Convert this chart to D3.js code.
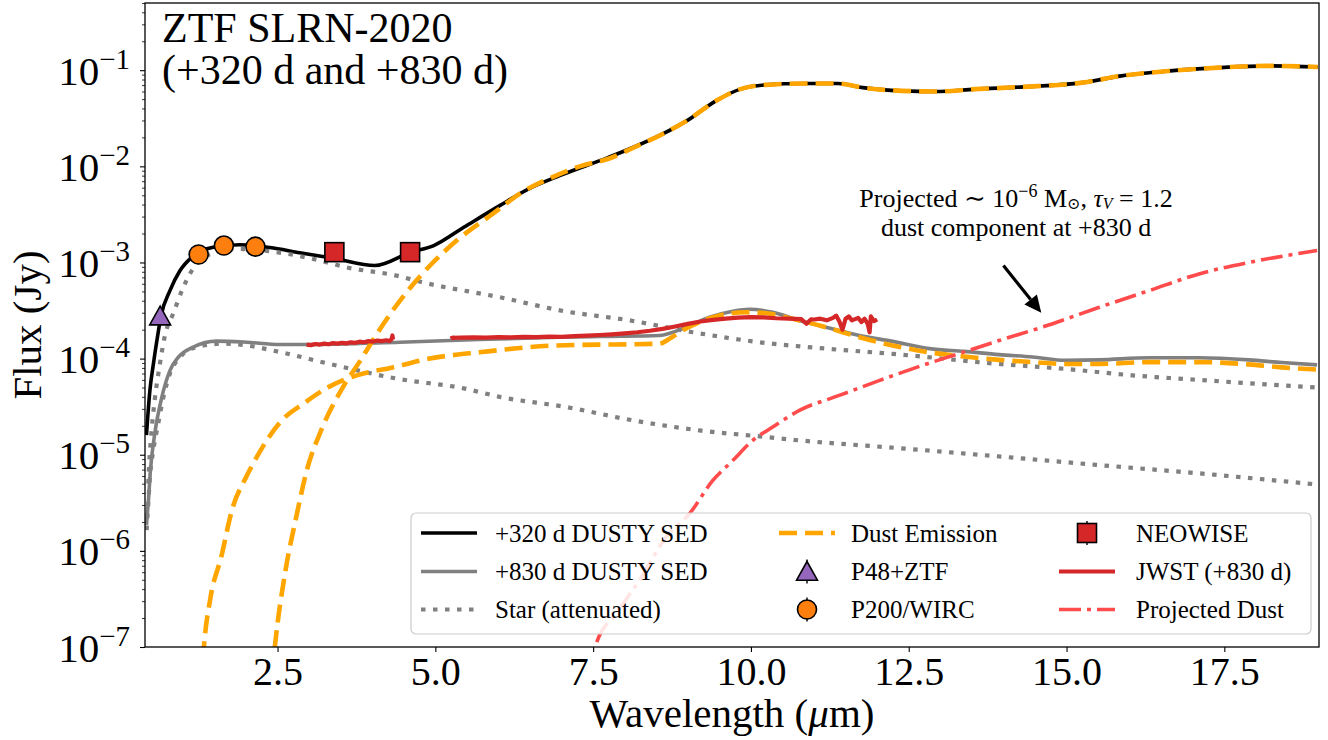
<!DOCTYPE html>
<html>
<head>
<meta charset="utf-8">
<script src="https://cdn.jsdelivr.net/npm/d3@7"></script>
<style>
body { margin: 0; background: #fff; }
text { font-family: "Liberation Serif", "DejaVu Serif", serif; fill: #000; }
</style>
</head>
<body>
<svg id="chart" width="1328" height="740"></svg>
<script>
// +320 d DUSTY SED (total)
var sed320Wave = [0.423, 0.478, 0.534, 0.589, 0.653, 0.795, 0.953, 1.139, 1.48, 1.903, 2.378, 2.853, 3.407, 4.04, 4.61,
    4.975, 5.45, 6.019, 6.472, 6.97, 7.743, 8.129, 8.595, 8.981, 9.446, 9.833, 10.22, 10.84, 11.38, 11.77, 12.39,
    12.93, 13.55, 14.32, 15.25, 15.87, 16.64, 17.42, 18.19, 18.98];
var sed320Flux = [1.6e-5, 4.7e-5, 8.9e-5, 1.55e-4, 2.77e-4, 5.1e-4, 8.2e-4, 1.13e-3, 1.44e-3, 1.53e-3, 1.43e-3, 1.26e-3, 1.1e-3, 9.3e-4, 1.28e-3,
    1.50e-3, 2.32e-3, 3.9e-3, 5.8e-3, 8.0e-3, 1.24e-2, 1.57e-2, 2.16e-2, 2.97e-2, 4.8e-2, 6.35e-2, 7.03e-2, 7.26e-2, 7.26e-2, 6.59e-2, 6.1e-2,
    6.0e-2, 6.35e-2, 6.71e-2, 7.43e-2, 8.73e-2, 9.84e-2, 0.1064, 0.111, 0.108];

// +830 d DUSTY SED (total)
var sed830Wave = [0.423, 0.455, 0.486, 0.558, 0.664, 0.795, 0.926, 1.164, 1.534, 2.009, 2.536, 2.959, 4.436, 5.70, 6.969,
    7.60, 8.552, 8.975, 9.344, 9.712, 9.977, 10.345, 10.768, 11.19, 11.72, 12.245, 12.83, 13.38, 13.93, 14.46,
    14.99, 15.52, 16.31, 17.10, 17.89, 18.41, 18.97];
var sed830Flux = [1.85e-6, 3.4e-6, 6.9e-6, 1.71e-5, 3.9e-5, 7.5e-5, 1.03e-4, 1.32e-4, 1.52e-4, 1.48e-4, 1.40e-4, 1.40e-4, 1.48e-4, 1.58e-4, 1.67e-4,
    1.70e-4, 1.74e-4, 2.12e-4, 2.69e-4, 3.11e-4, 3.26e-4, 3.03e-4, 2.49e-4, 2.12e-4, 1.74e-4, 1.51e-4, 1.27e-4, 1.19e-4, 1.10e-4, 1.04e-4,
    9.6e-5, 9.7e-5, 1.02e-4, 1.02e-4, 9.7e-5, 9.1e-5, 8.6e-5];

// attenuated star, +320 d and +830 d
var star320Wave = [0.452, 0.467, 0.505, 0.558, 0.637, 0.716, 0.847, 1.006, 1.218, 1.534, 1.903, 2.272, 3.064, 3.592, 4.384,
    4.805, 6.019, 7.048, 8.025, 9.079, 10.135, 11.19, 12.245, 13.93, 14.99, 16.04, 17.10, 18.156, 18.97];
var star320Flux = [5.0e-6, 8.1e-6, 1.8e-5, 3.9e-5, 8.9e-5, 1.74e-4, 2.94e-4, 5.5e-4, 9.7e-4, 1.28e-3, 1.38e-3, 1.33e-3, 1.09e-3, 8.9e-4, 7.3e-4,
    6.2e-4, 4.35e-4, 3.11e-4, 2.53e-4, 1.88e-4, 1.48e-4, 1.27e-4, 1.12e-4, 8.8e-5, 7.8e-5, 6.7e-5, 6.0e-5, 5.4e-5, 5.0e-5];
var star830Wave = [0.426, 0.452, 0.478, 0.531, 0.610, 0.689, 0.795, 0.953, 1.218, 1.639, 2.009, 2.536, 3.328, 4.384, 5.449,
    6.019, 7.075, 8.13, 9.185, 10.24, 10.77, 12.35, 13.93, 15.52, 17.10, 18.97];
var star830Flux = [1.64e-6, 3.1e-6, 5.8e-6, 1.11e-5, 2.12e-5, 3.9e-5, 7.0e-5, 1.03e-4, 1.32e-4, 1.43e-4, 1.37e-4, 1.17e-4, 8.8e-5, 6.2e-5, 4.9e-5,
    4.0e-5, 3.13e-5, 2.28e-5, 1.79e-5, 1.53e-5, 1.41e-5, 1.17e-5, 9.6e-6, 7.8e-6, 6.4e-6, 4.9e-6];

// dust emission components
var dust320Wave = [2.378, 2.457, 2.627, 2.796, 2.964, 3.192, 3.532, 3.814, 4.04, 4.324, 4.606, 4.943, 5.338, 5.907, 6.415,
    6.81, 7.29, 7.743, 8.129, 8.595, 8.981, 9.446, 9.833, 10.22, 10.84, 11.38, 11.77, 12.39, 12.93, 13.55, 14.32,
    15.25, 15.87, 16.64, 17.42, 18.19, 18.98];
var dust320Flux = [2.8e-8, 1.0e-7, 6.3e-7, 2.25e-6, 6.9e-6, 1.8e-5, 5.0e-5, 9.6e-5, 1.67e-4, 3.16e-4, 5.5e-4, 9.7e-4, 1.69e-3, 3.2e-3, 5.6e-3,
    7.5e-3, 1.0e-2, 1.2e-2, 1.55e-2, 2.16e-2, 2.97e-2, 4.8e-2, 6.35e-2, 7.03e-2, 7.26e-2, 7.26e-2, 6.59e-2, 6.1e-2, 6.0e-2, 6.35e-2, 6.71e-2,
    7.43e-2, 8.73e-2, 9.84e-2, 0.1064, 0.111, 0.108];
var dust830Wave = [1.29, 1.333, 1.439, 1.609, 1.777, 2.005, 2.172, 2.568, 2.91, 3.306, 3.755, 4.324, 4.889, 5.734, 6.921,
    8.552, 8.71, 8.916, 9.185, 9.502, 9.925, 10.24, 10.66, 11.19, 11.72, 12.245, 12.83, 13.38, 13.93, 14.46,
    14.99, 15.52, 16.31, 17.10, 17.89, 18.41, 18.97];
var dust830Flux = [4.0e-8, 1.0e-7, 3.3e-7, 8.7e-7, 2.65e-6, 5.9e-6, 9.5e-6, 2.28e-5, 3.4e-5, 5.05e-5, 6.7e-5, 8.1e-5, 9.95e-5, 1.17e-4, 1.37e-4,
    1.43e-4, 1.61e-4, 1.96e-4, 2.39e-4, 2.81e-4, 3.03e-4, 2.96e-4, 2.59e-4, 2.12e-4, 1.67e-4, 1.37e-4, 1.16e-4, 1.05e-4, 9.7e-5, 9.2e-5,
    8.8e-5, 8.8e-5, 9.2e-5, 9.2e-5, 8.7e-5, 8.1e-5, 7.7e-5];

// projected ~1e-6 Msun dust component at +830 d
var projWave = [7.44, 7.55, 7.867, 8.235, 8.658, 9.027, 9.396, 9.712, 10.029, 10.345, 10.768, 11.40, 12.03, 12.67, 13.30,
    13.93, 14.61, 15.52, 16.31, 17.10, 17.89, 18.97];
var projFlux = [4.6e-8, 1.09e-7, 2.24e-7, 4.97e-7, 1.40e-6, 2.44e-6, 5.4e-6, 8.7e-6, 1.41e-5, 1.94e-5, 2.89e-5, 4.14e-5, 5.9e-5, 8.3e-5, 1.13e-4,
    1.54e-4, 2.12e-4, 3.42e-4, 5.1e-4, 7.6e-4, 1.0e-3, 1.33e-3];

// JWST spectrum (+830 d), null marks the gap between the two segments
var jwstWave = [2.96, 3.03, 3.10, 3.17, 3.24, 3.31, 3.38, 3.45, 3.52, 3.59, 3.66, 3.73, 3.80, 3.87, 3.94, 4.01, 4.08, 4.15, 4.22, 4.28, 4.31, 4.32, 4.33,
    4.8,
    5.26, 5.27, 5.4, 5.6, 5.8, 6.0, 6.2, 6.4, 6.6, 6.8, 7.0, 7.2, 7.4, 7.6, 7.8, 8.0, 8.2, 8.4, 8.6, 8.8, 9.0, 9.2, 9.4, 9.6, 9.8,
    10.0, 10.2, 10.4, 10.6, 10.8, 10.88, 10.95, 11.0, 11.1, 11.2, 11.3, 11.35, 11.4, 11.45, 11.5, 11.55, 11.6, 11.7, 11.75, 11.8,
    11.85, 11.88, 11.9, 11.95, 12.0];
var jwstFlux = [1.40e-4, 1.38e-4, 1.42e-4, 1.40e-4, 1.43e-4, 1.41e-4, 1.45e-4, 1.43e-4, 1.46e-4, 1.44e-4, 1.48e-4, 1.46e-4, 1.50e-4, 1.48e-4, 1.52e-4, 1.50e-4, 1.54e-4, 1.52e-4, 1.55e-4, 1.53e-4, 1.60e-4, 1.74e-4, 1.58e-4,
    null,
    1.72e-4, 1.64e-4, 1.65e-4, 1.66e-4, 1.65e-4, 1.67e-4, 1.66e-4, 1.68e-4, 1.67e-4, 1.69e-4, 1.68e-4, 1.71e-4, 1.73e-4, 1.76e-4, 1.79e-4, 1.83e-4, 1.88e-4, 1.95e-4, 2.04e-4, 2.16e-4, 2.30e-4, 2.43e-4, 2.53e-4, 2.61e-4, 2.67e-4,
    2.70e-4, 2.68e-4, 2.63e-4, 2.60e-4, 2.57e-4, 2.3e-4, 2.56e-4, 2.55e-4, 2.6e-4, 2.5e-4, 2.65e-4, 2.8e-4, 2.45e-4, 2.0e-4, 2.6e-4, 2.75e-4, 2.5e-4, 2.65e-4, 2.4e-4, 2.6e-4,
    2.3e-4, 1.88e-4, 2.75e-4, 2.45e-4, 2.55e-4];

// photometry
var ztfWave = [0.64], ztfFlux = [2.7e-4];
var wircWave = [1.25, 1.65, 2.15], wircFlux = [1.21e-3, 1.50e-3, 1.46e-3];
var neoWave = [3.4, 4.6], neoFlux = [1.28e-3, 1.28e-3];

// axes
var xTicks = [2.5, 5.0, 7.5, 10.0, 12.5, 15.0, 17.5];
var yTickExp = [-7, -6, -5, -4, -3, -2, -1];
var xDomain = [0.4, 19];
var yDomain = [1e-7, 0.5];

// annotation: arrow tail/tip in data coords
var arrowFrom = [14.0, 9.3e-4], arrowTo = [14.6, 3.0e-4];
var annotX = 14.2;

var svg = d3.select("#chart"),
    margin = {top: 3, left: 145, bottom: 93, right: 9},
    W = +svg.attr("width"), H = +svg.attr("height");

var x = d3.scaleLinear().domain(xDomain).range([margin.left, W - margin.right]);
var y = d3.scaleLog().domain(yDomain).range([H - margin.bottom, margin.top]);

function zipSeries(w, f) { return w.map(function(d, i){ return {w: d, f: f[i]}; }); }

svg.append("defs").append("clipPath").attr("id", "plotclip")
    .append("rect").attr("x", x.range()[0]).attr("y", y.range()[1])
    .attr("width", x.range()[1] - x.range()[0]).attr("height", y.range()[0] - y.range()[1]);

var plot = svg.append("g").attr("clip-path", "url(#plotclip)");

var line = d3.line()
    .defined(function(d){ return d.f != null; })
    .x(function(d){ return x(d.w); })
    .y(function(d){ return y(d.f); })
    .curve(d3.curveMonotoneX);
var lineRaw = d3.line()
    .defined(function(d){ return d.f != null; })
    .x(function(d){ return x(d.w); })
    .y(function(d){ return y(d.f); });

var GREY = "#808080", ORANGE = "#ffa500", RED = "#d62728", PROJ = "#ff4b4b";

// draw order: SEDs, stars, dust, projected, jwst, photometry
var series = [
    {w: sed320Wave, f: sed320Flux, color: "#000", width: 3.6, dash: null, smooth: true},
    {w: sed830Wave, f: sed830Flux, color: GREY, width: 3.6, dash: null, smooth: true},
    {w: star320Wave, f: star320Flux, color: GREY, width: 4.2, dash: "4.5,7.5", smooth: true},
    {w: star830Wave, f: star830Flux, color: GREY, width: 4.2, dash: "4.5,7.5", smooth: true},
    {w: dust320Wave, f: dust320Flux, color: ORANGE, width: 4.6, dash: "18,8", smooth: true},
    {w: dust830Wave, f: dust830Flux, color: ORANGE, width: 4.6, dash: "18,8", smooth: true},
    {w: projWave, f: projFlux, color: PROJ, width: 3.6, dash: "22,6,4,6", smooth: true},
    {w: jwstWave, f: jwstFlux, color: RED, width: 4.2, dash: null, smooth: false}
];

series.forEach(function(s){
    plot.append("path")
        .datum(zipSeries(s.w, s.f))
        .attr("fill", "none")
        .attr("stroke", s.color)
        .attr("stroke-width", s.width)
        .attr("stroke-dasharray", s.dash)
        .attr("stroke-linejoin", "round")
        .attr("d", s.smooth ? line : lineRaw);
});

// photometry markers
function triPath(cx, cy, r) {
    return "M" + cx + "," + (cy - r) + "L" + (cx + r * 0.95) + "," + (cy + r * 0.7) + "L" + (cx - r * 0.95) + "," + (cy + r * 0.7) + "Z";
}
plot.selectAll("circle.wirc").data(zipSeries(wircWave, wircFlux)).enter().append("circle")
    .attr("cx", function(d){ return x(d.w); }).attr("cy", function(d){ return y(d.f); })
    .attr("r", 9.5).attr("fill", "#ff7f0e").attr("stroke", "#000").attr("stroke-width", 1.6);
plot.selectAll("rect.neo").data(zipSeries(neoWave, neoFlux)).enter().append("rect")
    .attr("x", function(d){ return x(d.w) - 9.5; }).attr("y", function(d){ return y(d.f) - 9.5; })
    .attr("width", 19).attr("height", 19).attr("fill", RED).attr("stroke", "#000").attr("stroke-width", 1.6);
plot.selectAll("path.ztf").data(zipSeries(ztfWave, ztfFlux)).enter().append("path")
    .attr("d", function(d){ return triPath(x(d.w), y(d.f), 11); })
    .attr("fill", "#9467bd").attr("stroke", "#000").attr("stroke-width", 1.6);

// annotation arrow
var ax0 = x(arrowFrom[0]), ay0 = y(arrowFrom[1]), ax1 = x(arrowTo[0]), ay1 = y(arrowTo[1]);
var ang = Math.atan2(ay1 - ay0, ax1 - ax0), headL = 17, headW = 8;
var bx = ax1 - headL * Math.cos(ang), by = ay1 - headL * Math.sin(ang);
svg.append("line").attr("x1", ax0).attr("y1", ay0).attr("x2", bx).attr("y2", by)
    .attr("stroke", "#000").attr("stroke-width", 3.2);
svg.append("path")
    .attr("d", "M" + ax1 + "," + ay1 +
        "L" + (bx + headW * Math.sin(ang)) + "," + (by - headW * Math.cos(ang)) +
        "L" + (bx - headW * Math.sin(ang)) + "," + (by + headW * Math.cos(ang)) + "Z")
    .attr("fill", "#000");

// two annotation lines as separate texts
var line1 = svg.append("text").attr("text-anchor", "middle").attr("font-size", 26)
    .attr("x", x(annotX)).attr("y", ay0 - 58);
line1.append("tspan").text("Projected \u223C 10");
line1.append("tspan").attr("dy", -10).attr("font-size", 18).text("\u22126");
line1.append("tspan").attr("dy", 10).text(" M");
line1.append("tspan").attr("dy", 2).attr("font-size", 16).text("\u2299");
line1.append("tspan").attr("dy", -2).text(", ");
line1.append("tspan").attr("font-style", "italic").text("\u03C4");
line1.append("tspan").attr("dy", 2).attr("font-size", 16).attr("font-style", "italic").text("V");
line1.append("tspan").attr("dy", -2).text(" = 1.2");
svg.append("text").attr("text-anchor", "middle").attr("font-size", 26)
    .attr("x", x(annotX)).attr("y", ay0 - 29).text("dust component at +830 d");

// frame
svg.append("rect")
    .attr("x", x.range()[0]).attr("y", y.range()[1])
    .attr("width", x.range()[1] - x.range()[0]).attr("height", y.range()[0] - y.range()[1])
    .attr("fill", "none").attr("stroke", "#000").attr("stroke-width", 1.3);

// x axis
var xAxis = svg.append("g")
    .attr("transform", "translate(0," + y.range()[0] + ")")
    .call(d3.axisBottom(x).tickValues(xTicks).tickFormat(d3.format(".1f")).tickSize(5).tickPadding(5).tickSizeOuter(0));
xAxis.select(".domain").remove();
xAxis.selectAll(".tick line").attr("stroke", "#000").attr("stroke-width", 1.1);
xAxis.selectAll(".tick text").attr("font-size", 40).attr("font-family", "Liberation Serif").attr("fill", "#000");

// y axis: major + minor ticks
var yMajor = yTickExp.map(function(e){ return Math.pow(10, e); });
var yMinor = [];
yTickExp.forEach(function(e){
    for (var k = 2; k <= 9; k++) {
        var v = k * Math.pow(10, e);
        if (v <= yDomain[1]) yMinor.push(v);
    }
});
var yAxis = svg.append("g")
    .attr("transform", "translate(" + x.range()[0] + ",0)")
    .call(d3.axisLeft(y).tickValues(yMajor).tickFormat("").tickSize(5).tickSizeOuter(0));
yAxis.select(".domain").remove();
yAxis.selectAll(".tick line").attr("stroke", "#000").attr("stroke-width", 1.1);
var yMinorAxis = svg.append("g")
    .attr("transform", "translate(" + x.range()[0] + ",0)")
    .call(d3.axisLeft(y).tickValues(yMinor).tickFormat("").tickSize(3).tickSizeOuter(0));
yMinorAxis.select(".domain").remove();
yMinorAxis.selectAll(".tick line").attr("stroke", "#000").attr("stroke-width", 0.8);

yAxis.selectAll(".tick").each(function(d, i){
    var t = d3.select(this).select("text")
        .attr("x", -15).attr("dy", null).attr("y", 14)
        .attr("text-anchor", "end").attr("font-size", 41).attr("fill", "#000")
        .attr("font-family", "Liberation Serif");
    t.text(null);
    t.append("tspan").text("10");
    t.append("tspan").attr("dy", -16).attr("font-size", 29).text("\u2212" + (-yTickExp[i]));
});

// axis labels
var xl = svg.append("text").attr("x", (x.range()[0] + x.range()[1]) / 2).attr("y", 727)
    .attr("text-anchor", "middle").attr("font-size", 41);
xl.append("tspan").text("Wavelength (");
xl.append("tspan").attr("font-style", "italic").text("\u03BC");
xl.append("tspan").text("m)");

svg.append("text")
    .attr("transform", "translate(41," + ((y.range()[0] + y.range()[1]) / 2) + ") rotate(-90)")
    .attr("text-anchor", "middle").attr("font-size", 41).text("Flux (Jy)");

// title
svg.append("text").attr("x", 162).attr("y", 42).attr("font-size", 42).text("ZTF SLRN-2020");
svg.append("text").attr("x", 162).attr("y", 84).attr("font-size", 42).text("(+320 d and +830 d)");

// legend
var lg = svg.append("g");
lg.append("rect").attr("x", 411).attr("y", 513).attr("width", 900).attr("height", 121).attr("rx", 5)
    .attr("fill", "#fff").attr("fill-opacity", 0.85).attr("stroke", "#cccccc").attr("stroke-width", 1.2);

var rowY = [533, 571.5, 609.5];
var colX = [421, 779, 1059];
var textX = [495, 851, 1136];
var legendItems = [
    {col: 0, row: 0, label: "+320 d DUSTY SED", type: "line", color: "#000", width: 3.6, dash: null},
    {col: 0, row: 1, label: "+830 d DUSTY SED", type: "line", color: GREY, width: 3.6, dash: null},
    {col: 0, row: 2, label: "Star (attenuated)", type: "line", color: GREY, width: 4.2, dash: "4.5,7.5"},
    {col: 1, row: 0, label: "Dust Emission", type: "line", color: ORANGE, width: 4.6, dash: "18,8"},
    {col: 1, row: 1, label: "P48+ZTF", type: "tri", color: "#9467bd"},
    {col: 1, row: 2, label: "P200/WIRC", type: "circle", color: "#ff7f0e"},
    {col: 2, row: 0, label: "NEOWISE", type: "square", color: RED},
    {col: 2, row: 1, label: "JWST (+830 d)", type: "line", color: RED, width: 4.2, dash: null},
    {col: 2, row: 2, label: "Projected Dust", type: "line", color: PROJ, width: 3.6, dash: "22,6,4,6"}
];
legendItems.forEach(function(it){
    var cy = rowY[it.row], x0 = colX[it.col], x1 = x0 + 56, cx = (x0 + x1) / 2;
    if (it.type === "line") {
        lg.append("line").attr("x1", x0).attr("x2", x1).attr("y1", cy).attr("y2", cy)
            .attr("stroke", it.color).attr("stroke-width", it.width).attr("stroke-dasharray", it.dash);
    } else {
        lg.append("line").attr("x1", cx).attr("x2", cx).attr("y1", cy - 12).attr("y2", cy + 12)
            .attr("stroke", "#000").attr("stroke-width", 1.4);
        if (it.type === "tri") {
            lg.append("path").attr("d", triPath(cx, cy + 1, 11)).attr("fill", it.color).attr("stroke", "#000").attr("stroke-width", 1.6);
        } else if (it.type === "circle") {
            lg.append("circle").attr("cx", cx).attr("cy", cy).attr("r", 9.5).attr("fill", it.color).attr("stroke", "#000").attr("stroke-width", 1.6);
        } else {
            lg.append("rect").attr("x", cx - 9.5).attr("y", cy - 9.5).attr("width", 19).attr("height", 19)
                .attr("fill", it.color).attr("stroke", "#000").attr("stroke-width", 1.6);
        }
    }
    lg.append("text").attr("x", textX[it.col]).attr("y", cy + 8.5).attr("font-size", 25).text(it.label);
});
</script>
</body>
</html>
